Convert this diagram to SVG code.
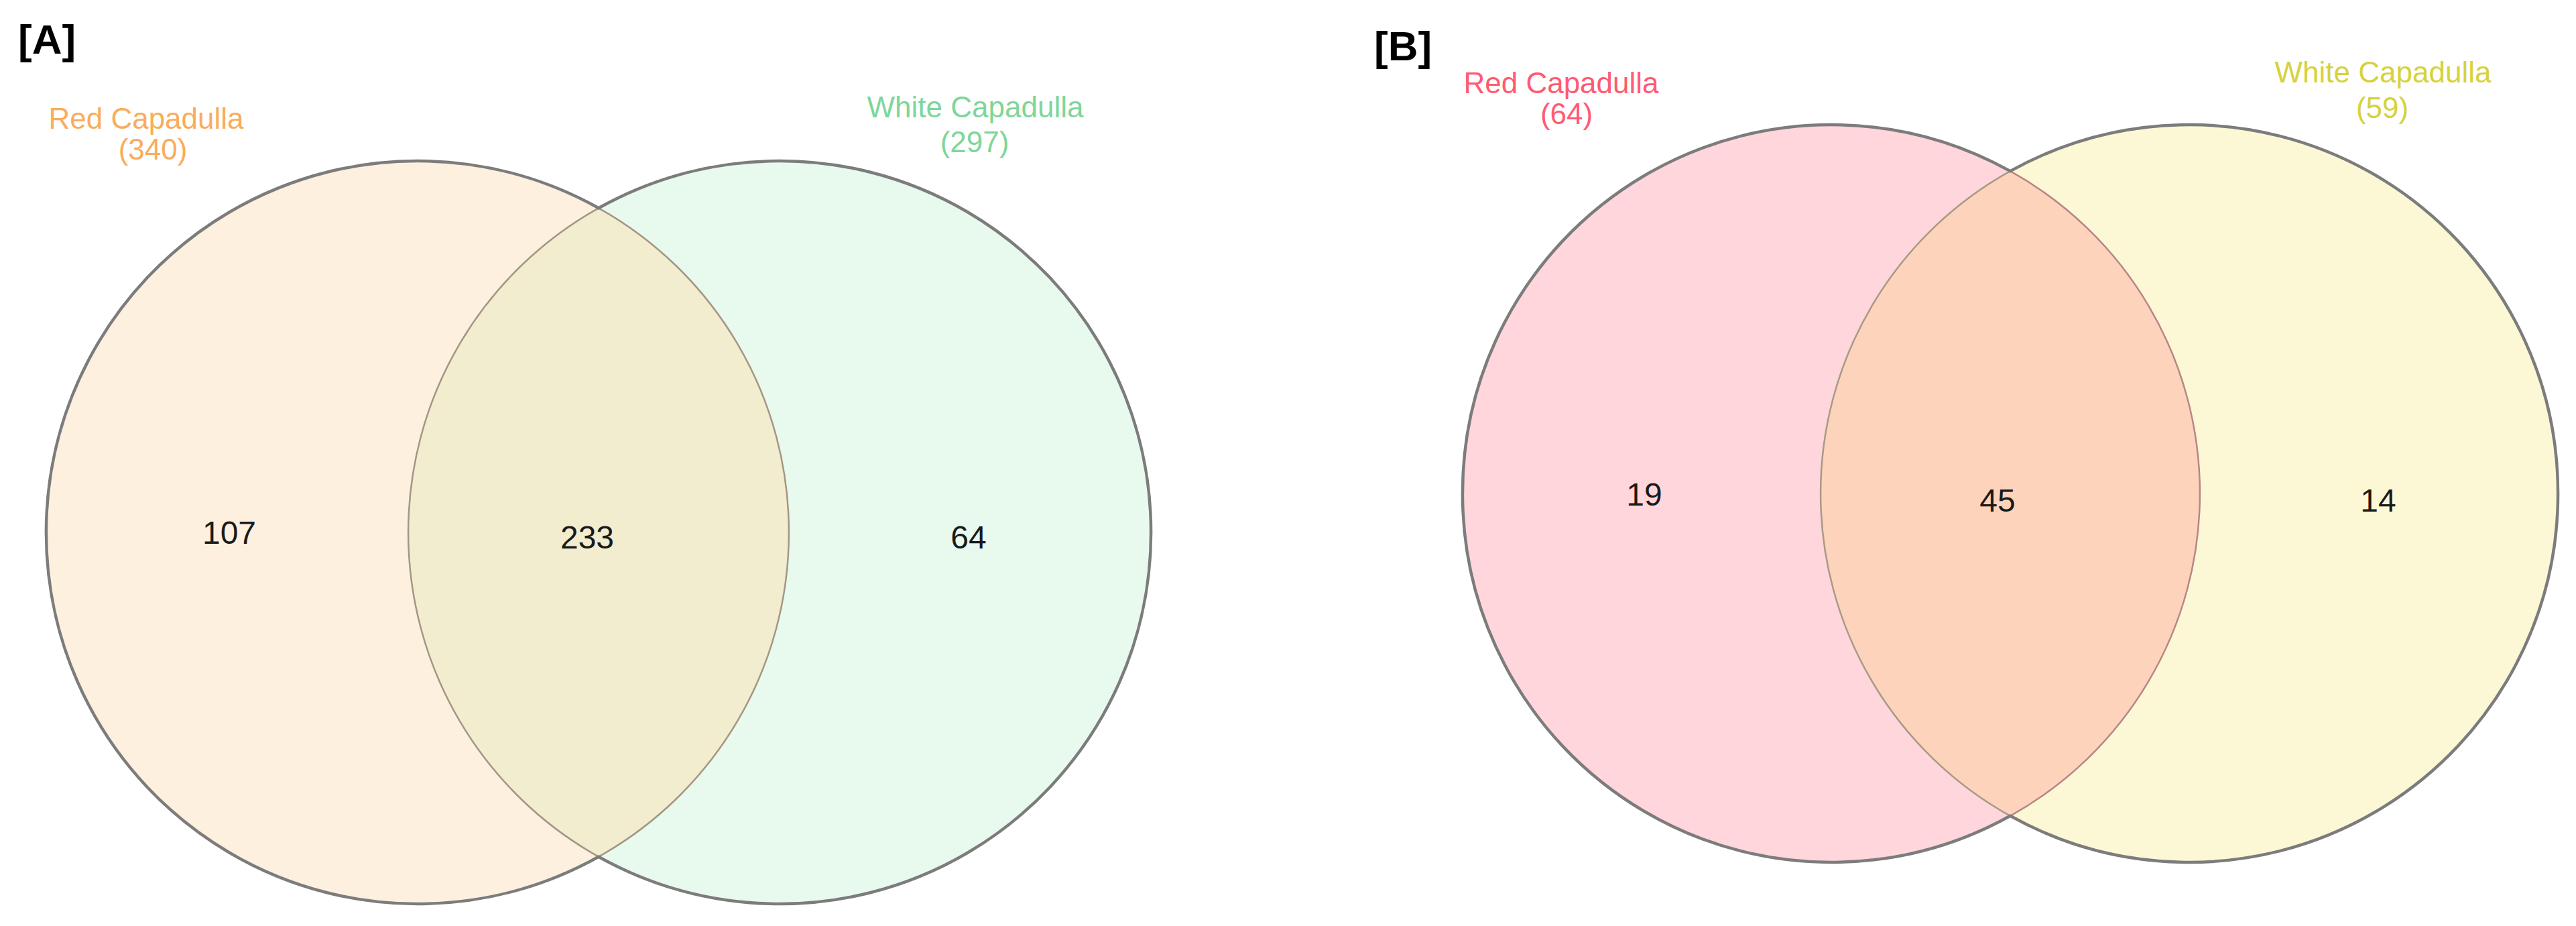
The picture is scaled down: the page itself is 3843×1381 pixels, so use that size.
<svg xmlns="http://www.w3.org/2000/svg" width="3843" height="1381" viewBox="0 0 3843 1381">
<style>
.panel{font-family:"Liberation Sans",Arial,sans-serif;font-weight:bold;font-size:62px;fill:#000}
.lbl{font-family:"Liberation Sans",Arial,sans-serif;font-size:44px;text-anchor:middle}
.num{font-family:"Liberation Sans",Arial,sans-serif;font-size:48px;fill:#1a1a1a;text-anchor:middle}
.outer{fill:none;stroke:#7c7c7c;stroke-width:4.5}
.inner{fill:none;stroke-width:2.5}
</style>
<rect width="3843" height="1381" fill="#ffffff"/>
<text class="panel" x="27" y="80">[A]</text>
<text class="panel" x="2050" y="90">[B]</text>

<!-- Panel A -->
<g id="A-red">
<circle cx="623" cy="794" r="554" fill="#FEF0DF"/>
<text class="lbl" x="218" y="192" fill="#F9AC5C">Red Capadulla</text>
<text class="lbl" x="228" y="238" fill="#F9AC5C">(340)</text>
<text class="num" x="342" y="811">107</text>
</g>
<g id="A-white">
<circle cx="1163" cy="794" r="554" fill="#E8F9EE"/>
<text class="lbl" x="1455" y="175" fill="#7ED69A">White Capadulla</text>
<text class="lbl" x="1454" y="227" fill="#7ED69A">(297)</text>
<text class="num" x="1445" y="818">64</text>
</g>
<g id="A-overlap">
<path d="M893,310.3 A554,554 0 0 1 893,1277.7 A554,554 0 0 1 893,310.3 Z" fill="#F2EDCF"/>
<path class="inner" stroke="#a49684" d="M893,310.3 A554,554 0 0 1 893,1277.7"/>
<path class="inner" stroke="#a49684" d="M893,310.3 A554,554 0 0 0 893,1277.7"/>
<path class="outer" d="M893,310.3 A554,554 0 1 0 893,1277.7 A554,554 0 1 0 893,310.3 Z"/>
<text class="num" x="876" y="818">233</text>
</g>

<!-- Panel B -->
<g id="B-red">
<circle cx="2732" cy="736" r="550" fill="#FFD6DC"/>
<text class="lbl" x="2329" y="139" fill="#FF5A73">Red Capadulla</text>
<text class="lbl" x="2337" y="185" fill="#FF5A73">(64)</text>
<text class="num" x="2453" y="754">19</text>
</g>
<g id="B-white">
<circle cx="3266" cy="736" r="550" fill="#FCF8D6"/>
<text class="lbl" x="3555" y="123" fill="#D6D23C">White Capadulla</text>
<text class="lbl" x="3554" y="176" fill="#D6D23C">(59)</text>
<text class="num" x="3548" y="763">14</text>
</g>
<g id="B-overlap">
<path d="M2999,255.2 A550,550 0 0 1 2999,1216.8 A550,550 0 0 1 2999,255.2 Z" fill="#FDD3BC"/>
<path class="inner" stroke="#b88686" d="M2999,255.2 A550,550 0 0 1 2999,1216.8"/>
<path class="inner" stroke="#a89a86" d="M2999,255.2 A550,550 0 0 0 2999,1216.8"/>
<path class="outer" d="M2999,255.2 A550,550 0 1 0 2999,1216.8 A550,550 0 1 0 2999,255.2 Z"/>
<text class="num" x="2980" y="763">45</text>
</g>

<g id="connectors"/>
</svg>
